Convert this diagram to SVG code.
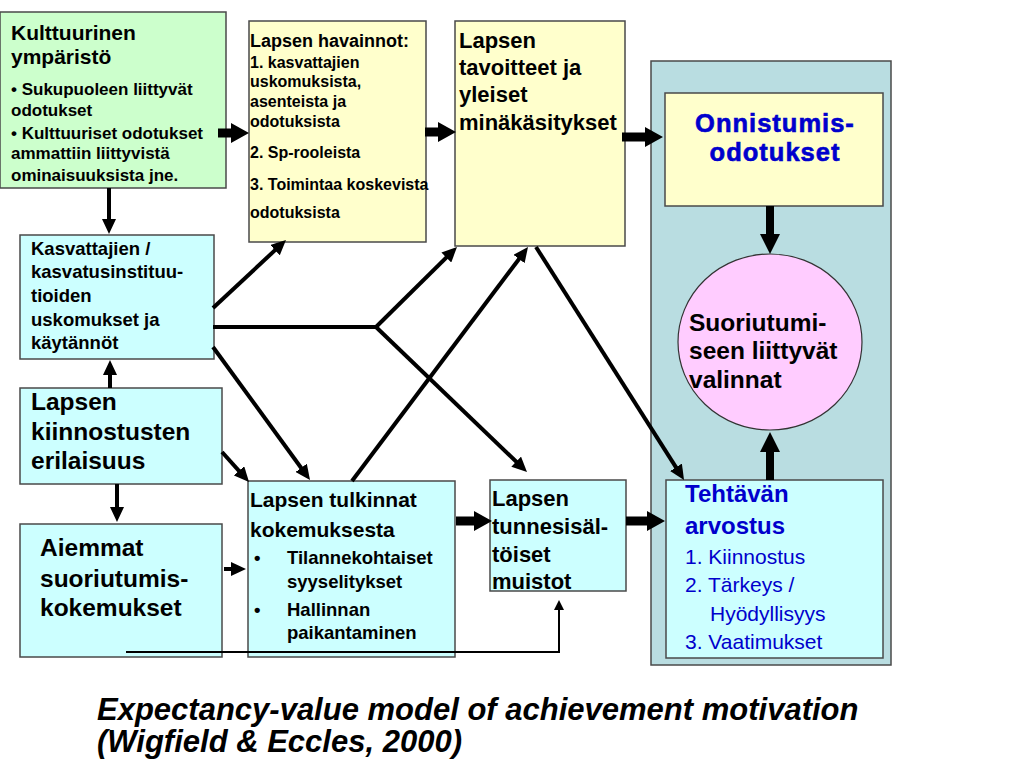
<svg xmlns="http://www.w3.org/2000/svg" width="1024" height="768" viewBox="0 0 1024 768">
<defs>
<style>
text{font-family:"Liberation Sans",Arial,sans-serif;font-weight:bold;fill:#000}
.box{stroke:#4a4a4a;stroke-width:1.5}
.green{fill:#CCFFCC}.yellow{fill:#FFFFCC}.cyan{fill:#CCFFFF}.pink{fill:#FFCCFF}
.ln{stroke:#000;stroke-width:4;fill:none}
.thin{stroke:#000;stroke-width:2;fill:none}
.blk{fill:#000}
.blue{fill:#0000CC}
.reg{font-weight:normal}
</style>
<marker id="ah" markerUnits="userSpaceOnUse" markerWidth="15" markerHeight="14" refX="6" refY="7" orient="auto"><path d="M0,0 L15,7 L0,14 z" fill="#000"/></marker>
<marker id="ahs" markerUnits="userSpaceOnUse" markerWidth="10" markerHeight="10" refX="4" refY="5" orient="auto"><path d="M0,0 L10,5 L0,10 z" fill="#000"/></marker>
</defs>
<rect width="1024" height="768" fill="#fff"/>

<g id="panel">
<rect x="651" y="61" width="240" height="604" fill="#B9DDE1" class="box"/>
</g>

<g id="kulttuurinen">
<rect x="0" y="12" width="226" height="176" class="box green"/>
<text font-size="21"><tspan x="11" y="40">Kulttuurinen</tspan><tspan x="11" y="64">ympäristö</tspan></text>
<text font-size="17"><tspan x="11" y="95">• Sukupuoleen liittyvät</tspan><tspan x="11" y="116">odotukset</tspan><tspan x="11" y="139">• Kulttuuriset odotukset</tspan><tspan x="11" y="159">ammattiin liittyvistä</tspan><tspan x="11" y="181">ominaisuuksista jne.</tspan></text>
</g>

<g id="havainnot">
<rect x="249" y="21" width="177" height="221" class="box yellow"/>
<text font-size="18"><tspan x="250" y="47">Lapsen havainnot:</tspan></text>
<text font-size="16"><tspan x="250" y="68">1. kasvattajien</tspan><tspan x="250" y="87">uskomuksista,</tspan><tspan x="250" y="107">asenteista ja</tspan><tspan x="250" y="127">odotuksista</tspan><tspan x="250" y="158">2. Sp-rooleista</tspan><tspan x="250" y="190">3. Toimintaa koskevista</tspan><tspan x="250" y="218">odotuksista</tspan></text>
</g>

<g id="tavoitteet">
<rect x="455" y="21" width="170" height="225" class="box yellow"/>
<text font-size="22"><tspan x="459" y="48">Lapsen</tspan><tspan x="459" y="75">tavoitteet ja</tspan><tspan x="459" y="102">yleiset</tspan><tspan x="459" y="130">minäkäsitykset</tspan></text>
</g>

<g id="kasvattajien">
<rect x="20" y="235" width="194" height="124" class="box cyan"/>
<text font-size="18.5"><tspan x="31" y="255">Kasvattajien /</tspan><tspan x="31" y="278">kasvatusinstituu-</tspan><tspan x="31" y="302">tioiden</tspan><tspan x="31" y="326">uskomukset ja</tspan><tspan x="31" y="349">käytännöt</tspan></text>
</g>

<g id="kiinnostusten">
<rect x="20" y="388" width="202" height="96" class="box cyan"/>
<text font-size="24.5"><tspan x="31" y="410">Lapsen</tspan><tspan x="31" y="440">kiinnostusten</tspan><tspan x="31" y="469">erilaisuus</tspan></text>
</g>

<g id="aiemmat">
<rect x="20" y="524" width="202" height="133" class="box cyan"/>
<text font-size="24.5"><tspan x="40" y="556">Aiemmat</tspan><tspan x="40" y="587">suoriutumis-</tspan><tspan x="40" y="616">kokemukset</tspan></text>
</g>

<g id="tulkinnat">
<rect x="248" y="481" width="207" height="176" class="box cyan"/>
<text font-size="21"><tspan x="250" y="507">Lapsen tulkinnat</tspan><tspan x="250" y="537">kokemuksesta</tspan></text>
<text font-size="18.5"><tspan x="254" y="564">•</tspan><tspan x="287" y="564">Tilannekohtaiset</tspan><tspan x="287" y="588">syyselitykset</tspan><tspan x="254" y="616">•</tspan><tspan x="287" y="616">Hallinnan</tspan><tspan x="287" y="639">paikantaminen</tspan></text>
</g>

<g id="tunnesisaltoiset">
<rect x="490" y="480" width="136" height="111" class="box cyan"/>
<text font-size="22"><tspan x="492" y="506">Lapsen</tspan><tspan x="492" y="534">tunnesisäl-</tspan><tspan x="492" y="562">töiset</tspan><tspan x="492" y="589">muistot</tspan></text>
</g>

<g id="onnistumis">
<rect x="665" y="93" width="218" height="113" class="box yellow"/>
<text font-size="25.5" letter-spacing="1" text-anchor="middle" class="blue" stroke="#0000CC" stroke-width="0.6"><tspan x="775" y="132">Onnistumis-</tspan><tspan x="775" y="161">odotukset</tspan></text>
</g>

<g id="valinnat">
<ellipse cx="770" cy="342" rx="92" ry="88" class="pink" stroke="#333" stroke-width="1.2"/>
<text font-size="24.5"><tspan x="689" y="331">Suoriutumi-</tspan><tspan x="689" y="359">seen liittyvät</tspan><tspan x="689" y="388">valinnat</tspan></text>
</g>

<g id="tehtavan">
<rect x="666" y="480" width="217" height="178" class="box cyan"/>
<text font-size="24" class="blue"><tspan x="685" y="502">Tehtävän</tspan><tspan x="685" y="534">arvostus</tspan></text>
<text font-size="21" class="blue reg"><tspan x="685" y="564">1. Kiinnostus</tspan><tspan x="685" y="592">2. Tärkeys /</tspan><tspan x="710" y="621">Hyödyllisyys</tspan><tspan x="685" y="649">3. Vaatimukset</tspan></text>
</g>

<g id="connectors">
<polygon class="blk" points="218,128.5 231,128.5 231,123 249,133 231,143 231,137.5 218,137.5"/>
<polygon class="blk" points="425,127.5 438,127.5 438,122 456,132 438,142 438,136.5 425,136.5"/>
<polygon class="blk" points="622,132.5 645,132.5 645,127 663,137 645,147 645,141.5 622,141.5"/>
<polygon class="blk" points="456,516.5 474,516.5 474,511 492,521 474,531 474,525.5 456,525.5"/>
<polygon class="blk" points="626,516.5 647,516.5 647,511 665,521 647,531 647,525.5 626,525.5"/>
<polygon class="blk" points="766,206 774,206 774,234 780,234 770,254 760,234 766,234"/>
<polygon class="blk" points="766,480 774,480 774,452 780,452 770,432 760,452 766,452"/>
<line class="ln" x1="109" y1="188" x2="109" y2="225" marker-end="url(#ah)"/>
<line class="ln" x1="110" y1="388" x2="110" y2="369" marker-end="url(#ah)"/>
<line class="ln" x1="117" y1="484" x2="117" y2="513" marker-end="url(#ah)"/>
<line class="ln" x1="224" y1="569" x2="237" y2="569" marker-end="url(#ah)"/>
<line class="ln" x1="222" y1="452" x2="243" y2="475.3" marker-end="url(#ah)"/>
<line class="ln" x1="213" y1="308" x2="279.4" y2="246.1" marker-end="url(#ah)"/>
<polyline class="ln" points="213,327 376,327"/>
<line class="ln" x1="376" y1="327" x2="450.6" y2="253.3" marker-end="url(#ah)"/>
<line class="ln" x1="376" y1="327" x2="520.5" y2="465.8" marker-end="url(#ah)"/>
<line class="ln" x1="213" y1="347" x2="304.7" y2="472.7" marker-end="url(#ah)"/>
<line class="ln" x1="352" y1="481" x2="522.6" y2="254.2" marker-end="url(#ah)"/>
<line class="ln" x1="536" y1="247" x2="679.2" y2="472.4" marker-end="url(#ah)"/>
<polyline class="thin" points="126,652 559,652 559,606" marker-end="url(#ahs)"/>
</g>

<g id="caption">
<text font-size="31" font-style="italic"><tspan x="97" y="720">Expectancy-value model of achievement motivation</tspan><tspan x="97" y="752">(Wigfield &amp; Eccles, 2000)</tspan></text>
</g>
</svg>
